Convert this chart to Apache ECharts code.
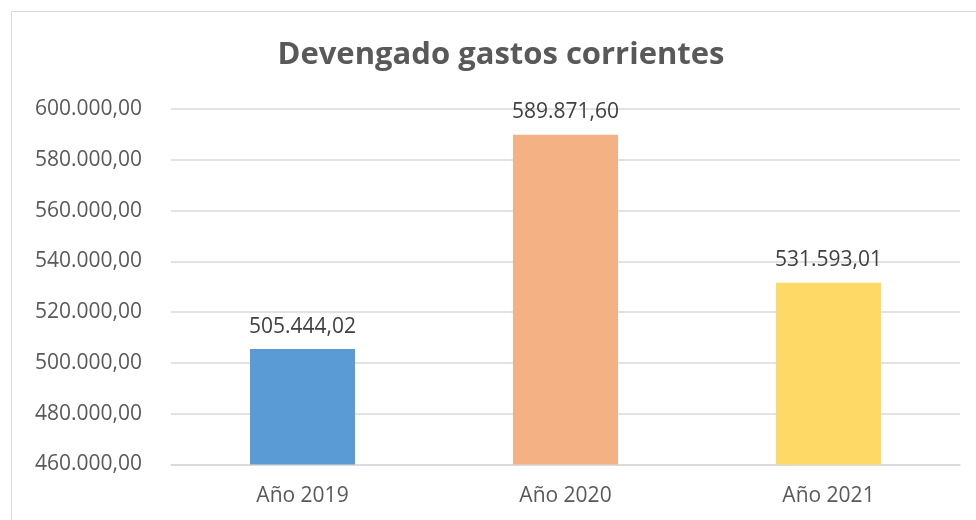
<!DOCTYPE html>
<html>
<head>
<meta charset="utf-8">
<script src="https://cdn.jsdelivr.net/npm/echarts@6/dist/echarts.min.js"></script>
<style>
  html, body { margin: 0; padding: 0; background: #fff; }
  #chart { width: 976px; height: 520px; }
</style>
</head>
<body>
<div id="chart"></div>
<script>
var categories = ['Año 2019', 'Año 2020', 'Año 2021'];
var values = [505444.02, 589871.60, 531593.01];
var barColors = ['#5B9BD5', '#F4B183', '#FFD966'];

// formato es-ES: 600.000,00
function fmt(v) {
    var parts = v.toFixed(2).split('.');
    var ent = parts[0].replace(/\B(?=(\d{3})+(?!\d))/g, '.');
    return ent + ',' + parts[1];
}

var myChart = echarts.init(document.getElementById('chart'));
var option = {
    backgroundColor: '#fff',
    textStyle: { fontFamily: 'Open Sans' },
    graphic: [{
        type: 'rect',
        shape: { x: 11.5, y: 11.5, width: 1000, height: 600 },
        style: { fill: 'none', stroke: '#d9d9d9', lineWidth: 1 },
        silent: true
    }],
    title: {
        text: 'Devengado gastos corrientes',
        left: 496,
        top: 35,
        textAlign: 'center',
        textStyle: {
            fontFamily: 'Open Sans',
            fontWeight: 'bold',
            fontSize: 31,
            color: '#595959'
        }
    },
    grid: {
        left: 171,
        right: 16,
        top: 109,
        bottom: 55.5,
        containLabel: false
    },
    xAxis: {
        type: 'category',
        data: categories,
        axisTick: { show: false },
        axisLine: { lineStyle: { color: '#d9d9d9', width: 1.5 } },
        axisLabel: {
            color: '#595959',
            fontSize: 21,
            margin: 21
        }
    },
    yAxis: {
        type: 'value',
        min: 460000,
        max: 600000,
        interval: 20000,
        axisLine: { show: false },
        axisTick: { show: false },
        splitLine: { lineStyle: { color: '#d9d9d9', width: 1.5 } },
        axisLabel: {
            color: '#595959',
            fontSize: 21,
            margin: 29,
            formatter: function (v) { return fmt(v); }
        }
    },
    series: [{
        type: 'bar',
        barWidth: 105,
        data: values.map(function (v, i) {
            return { value: v, itemStyle: { color: barColors[i] } };
        }),
        label: {
            show: true,
            position: 'top',
            distance: 12,
            color: '#404040',
            fontSize: 21,
            formatter: function (p) { return fmt(p.value); }
        }
    }]
};
myChart.setOption(option);
</script>
</body>
</html>
